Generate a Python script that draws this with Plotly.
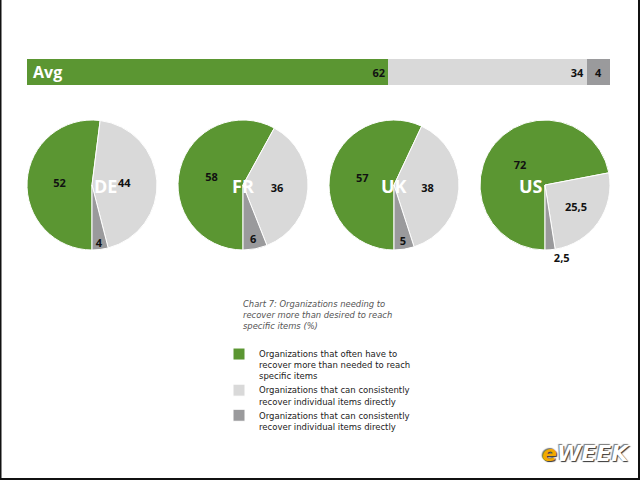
import plotly.graph_objects as go

# ---- data ----
categories = ["Organizations that often have to<br>recover more than needed to reach<br>specific items",
              "Organizations that can consistently<br>recover individual items directly",
              "Organizations that can consistently<br>recover individual items directly\u200b"]
colors = ["#5b9632", "#d9d9d9", "#9a9a9c"]

avg_label = "Avg"
avg_values = [62, 34, 4]

countries = ["DE", "FR", "UK", "US"]
country_values = [
    [52, 44, 4],
    [58, 36, 6],
    [57, 38, 5],
    [72, 25.5, 2.5],
]

caption = "<i>Chart 7: Organizations needing to<br>recover more than desired to reach<br>specific items (%)</i>"

W, H = 640, 480


def fmt(v):
    return f"{v:g}".replace(".", ",")


fig = go.Figure()

# ---- stacked horizontal bar ----
for i, (v, c) in enumerate(zip(avg_values, colors)):
    fig.add_trace(go.Bar(
        x=[v], y=[avg_label], orientation="h",
        marker=dict(color=c, line=dict(width=0)),
        text=[fmt(v)], textposition="inside",
        insidetextanchor="end" if i < 2 else "middle",
        textfont=dict(family="Open Sans", size=11, color="#111", weight="bold"),
        showlegend=False, hoverinfo="skip", width=1,
    ))

fig.update_layout(
    barmode="stack",
    xaxis=dict(domain=[27 / W, 610 / W], range=[0, 100], visible=False, fixedrange=True),
    yaxis=dict(domain=[1 - 85 / H, 1 - 59 / H], range=[-0.5, 0.5], visible=False),
    bargap=0,
)

fig.add_annotation(x=0, y=avg_label, xref="x", yref="y", text=f"<b>{avg_label}</b>",
                   xanchor="left", xshift=4, showarrow=False,
                   font=dict(family="Open Sans", size=16, color="white"))

# ---- pies ----
centers = [92, 243, 394, 545]
cy = 185
r = 65
for k, (name, vals, cx) in enumerate(zip(countries, country_values, centers)):
    pos = ["inside", "inside", "inside"]
    if vals[2] < 3:
        pos = ["inside", "inside", "outside"]
    fig.add_trace(go.Pie(
        labels=categories, values=vals, sort=False, direction="clockwise",
        rotation=180,
        marker=dict(colors=colors, line=dict(color="white", width=1)),
        text=[fmt(v) for v in vals], textinfo="text",
        textposition=pos, insidetextorientation="horizontal",
        textfont=dict(family="Open Sans", size=11, color="#111", weight="bold"),
        domain=dict(x=[(cx - r) / W, (cx + r) / W], y=[1 - (cy + r) / H, 1 - (cy - r) / H]),
        showlegend=(k == 0), hoverinfo="skip",
    ))
    fig.add_annotation(x=cx / W, y=1 - (cy + 1) / H, xref="paper", yref="paper",
                       text=f"<b>{name}</b>", showarrow=False,
                       font=dict(family="Open Sans", size=18, color="white"))

fig.update_layout(uniformtext=dict(minsize=11, mode="show"))

# ---- caption ----
fig.add_annotation(x=241 / W, y=1 - 297 / H, xref="paper", yref="paper",
                   text=caption, showarrow=False, xanchor="left", yanchor="top",
                   align="left",
                   font=dict(family="DejaVu Sans", size=8.4, color="#555"))

# ---- legend ----
fig.update_layout(
    showlegend=True,
    legend=dict(x=219 / W, y=1 - 342 / H, xanchor="left", yanchor="top",
                font=dict(family="DejaVu Sans", size=8.5, color="#222"),
                valign="top",
                tracegroupgap=4, bgcolor="rgba(0,0,0,0)", traceorder="normal"),
)

# ---- logo ----
fig.add_annotation(x=632 / W, y=1 - 468 / H, xref="paper", yref="paper",
                   text="<b><i><span style='color:#f2a900'>e</span>WEEK</i></b>",
                   showarrow=False, xanchor="right",
                   font=dict(family="DejaVu Sans", size=22, color="white",
                             shadow="1px 1px 1px #333, -1px -1px 1px #777"))

# ---- frame ----
for x0, y0, x1, y1 in [(0, 0, 1.5 / W, 1), (1 - 2 / W, 0, 1, 1), (0, 0, 1, 2 / H)]:
    fig.add_shape(type="rect", xref="paper", yref="paper", x0=x0, y0=y0, x1=x1, y1=y1,
                  fillcolor="#111", line=dict(width=0), layer="above")

fig.update_layout(
    width=W, height=H, margin=dict(l=0, r=0, t=0, b=0),
    paper_bgcolor="white", plot_bgcolor="white",
)

fig.write_html("out.html")
